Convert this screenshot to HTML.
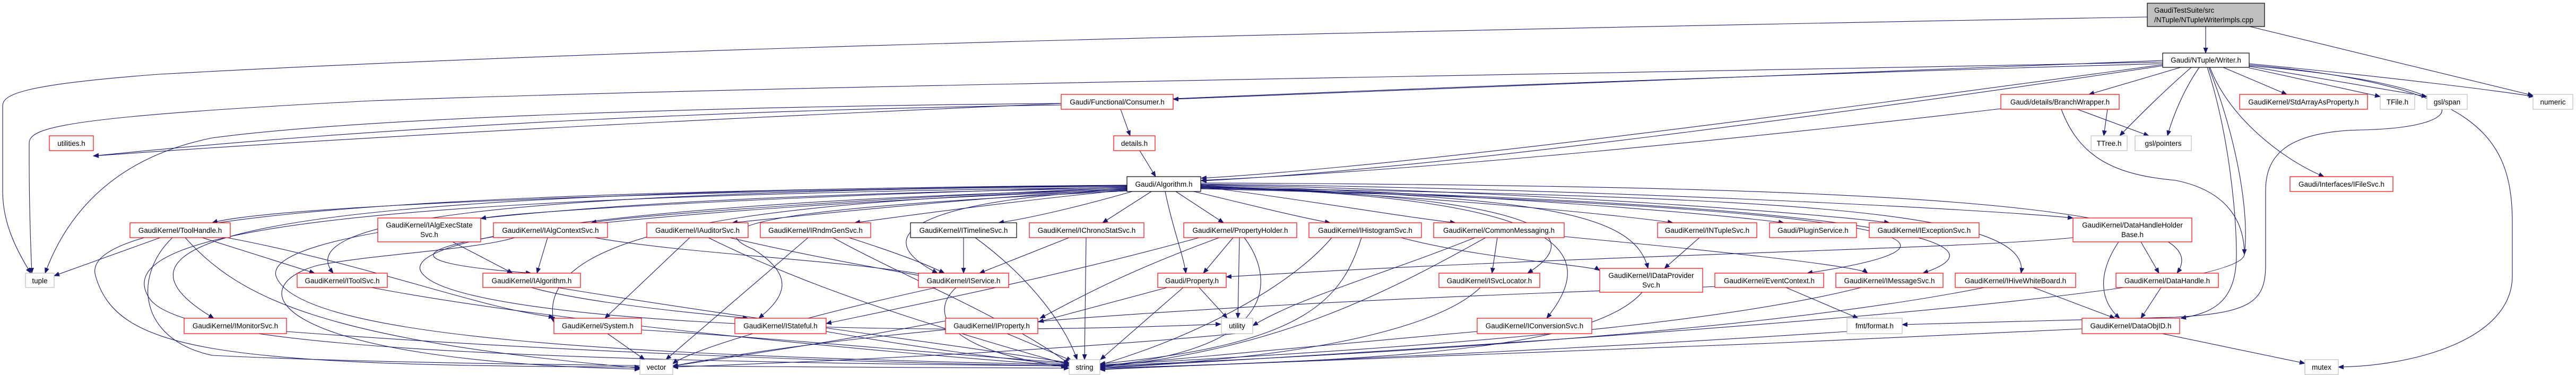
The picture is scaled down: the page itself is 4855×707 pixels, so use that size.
<!DOCTYPE html>
<html><head><meta charset="utf-8"><style>
html,body{margin:0;padding:0;background:#fff;}
svg{display:block;}
text{font-family:"Liberation Sans","DejaVu Sans",sans-serif;font-size:13.5px;fill:#000;}
.e{fill:none;stroke:#191970;stroke-width:1.1;marker-end:url(#a);}
.r{fill:#fff;stroke:#ff0000;stroke-width:1.2;}
.g{fill:#fff;stroke:#bfbfbf;stroke-width:1.2;}
.k{fill:#fff;stroke:#000;stroke-width:1.2;}
</style></head><body>
<svg width="4855" height="707" viewBox="0 0 4855 707" xmlns="http://www.w3.org/2000/svg">
<defs><marker id="a" markerWidth="11" markerHeight="9" refX="10" refY="4.5" orient="auto" markerUnits="userSpaceOnUse"><path d="M0,0 L11,4.5 L0,9 z" fill="#191970"/></marker></defs>

<!-- edges from test suite -->
<path class="e" d="M4157,50 L4157,100"/>
<path class="e" d="M4240,50 L4774,180"/>
<path class="e" d="M4047,32 C2500,60 1200,90 300,140 C30,160 5,180 5,200 L5,360 C5,420 30,470 58,515"/>

<!-- Writer.h edges -->
<path class="e" d="M4076,117 C3000,140 1500,160 700,190 C120,220 55,240 55,270 L55,300 C55,400 58,470 60,515"/>
<path class="e" d="M4076,120 C3000,150 1200,220 176,294"/>
<path class="e" d="M4076,114 C3200,150 2500,180 2211,187"/>
<path class="e" d="M4076,122 C3500,200 2700,310 2264,336"/>
<path class="e" d="M4076,124 C3500,210 2700,320 2264,341"/>
<path class="e" d="M4110,127 L3937,178"/>
<path class="e" d="M4145,127 C4115,170 4095,220 4085,256"/>
<path class="e" d="M4130,127 C4080,170 4030,220 3995,256"/>
<path class="e" d="M4190,127 L4310,178"/>
<path class="e" d="M4239,128 L4486,182"/>
<path class="e" d="M4239,125 L4574,182"/>
<path class="e" d="M4239,120 C4500,145 4700,170 4776,182"/>
<path class="e" d="M4165,127 C4200,220 4300,300 4380,333"/>
<path class="e" d="M4239,122 C4660,160 4735,250 4735,420 L4735,520 C4735,640 4550,690 4407,692"/>
<path class="e" d="M4239,124 C4680,160 4680,240 4450,245 C4300,248 4270,300 4270,360 L4270,500 C4270,570 4240,590 4100,598 C3900,605 3700,610 3585,612"/>
<path class="e" d="M4160,127 C4200,250 4215,400 4215,480 C4215,570 4170,590 4110,600"/>
<path class="e" d="M4163,127 C4215,260 4240,400 4230,480 C4220,560 3000,640 2073,694"/>

<!-- Consumer / details / BranchWrapper -->
<path class="e" d="M2000,195 C1400,200 700,220 400,260 C200,300 120,420 85,515"/>
<path class="e" d="M2000,198 C1500,205 800,230 176,294"/>
<path class="e" d="M2112,206 L2130,256"/>
<path class="e" d="M2148,284 L2178,333"/>
<path class="e" d="M3771,205 C3300,260 2700,320 2264,340"/>
<path class="e" d="M3972,206 L3965,256"/>
<path class="e" d="M3915,206 L4050,256"/>
<path class="e" d="M3885,206 C3920,300 3990,330 4100,340 C4200,360 4230,420 4230,480"/>

<!-- Algorithm.h to row 1 -->
<path class="e" d="M2124,350 C1200,360 500,390 400,420"/>
<path class="e" d="M2124,352 C1600,365 1000,395 906,412"/>
<path class="e" d="M2124,354 C1700,370 1200,405 1114,420"/>
<path class="e" d="M2124,356 C1800,375 1500,408 1380,420"/>
<path class="e" d="M2124,358 C1900,380 1700,408 1611,420"/>
<path class="e" d="M2134,361 C2050,385 1950,410 1882,420"/>
<path class="e" d="M2170,361 L2078,420"/>
<path class="e" d="M2216,361 L2306,420"/>
<path class="e" d="M2250,361 C2350,385 2450,410 2507,420"/>
<path class="e" d="M2263,352 C2450,375 2650,410 2743,420"/>
<path class="e" d="M2263,350 C2700,370 3050,405 3153,420"/>
<path class="e" d="M2263,349 C2800,365 3250,405 3362,420"/>
<path class="e" d="M2263,348 C2900,360 3450,405 3561,420"/>
<path class="e" d="M2263,347 C3000,355 3750,395 3907,411"/>
<!-- Algorithm.h to lower rows -->
<path class="e" d="M2124,358 C1750,375 1620,440 1767,515"/>
<path class="e" d="M2196,361 C2210,430 2230,480 2235,515"/>
<path class="e" d="M2263,351 C2900,370 3000,440 2879,515"/>
<path class="e" d="M2263,352 C2900,370 3080,400 3106,506"/>
<path class="e" d="M2263,353 C2950,370 3020,470 2915,600"/>
<path class="e" d="M2263,356 C3300,380 3900,440 3406,515"/>
<path class="e" d="M2263,355 C3300,375 3850,440 3624,515"/>
<path class="e" d="M2263,354 C3400,370 3830,400 3809,515"/>
<path class="e" d="M2263,345 C3500,350 4200,380 4103,515"/>
<path class="e" d="M2124,351 C900,360 550,420 628,515"/>
<path class="e" d="M2124,349 C700,360 100,420 403,600"/>
<path class="e" d="M2124,350 C600,360 150,420 180,520 C220,660 400,690 1206,692"/>
<path class="e" d="M2124,353 C700,370 200,430 280,560 C330,650 900,680 2015,690"/>
<path class="e" d="M2124,355 C1000,370 500,440 520,520 C560,640 1200,670 2015,688"/>
<path class="e" d="M2124,357 C1200,380 720,450 800,520 C880,600 1600,640 2301,611"/>
<path class="e" d="M2124,359 C1400,380 400,470 1001,515"/>
<path class="e" d="M2124,360 C1500,390 1300,420 1420,470 C1500,520 1480,560 1430,600"/>
<path class="e" d="M2124,356 C1500,380 1000,420 1044,608"/>

<!-- row 1 children -->
<path class="e" d="M302,448 L102,520"/>
<path class="e" d="M381,448 L593,515"/>
<path class="e" d="M325,448 C250,520 260,640 400,670 C800,690 1500,692 2015,694"/>
<path class="e" d="M349,448 C450,560 600,640 1206,694"/>
<path class="e" d="M428,448 C700,500 900,580 1044,598"/>
<path class="e" d="M853,456 L966,515"/>
<path class="e" d="M1032,448 L1012,515"/>
<path class="e" d="M1120,448 C1300,480 1600,490 1767,522"/>
<path class="e" d="M970,448 C900,470 700,480 600,500 C450,540 500,680 1206,696"/>
<path class="e" d="M1300,448 L1140,600"/>
<path class="e" d="M1335,448 C1500,530 1700,600 2015,688"/>
<path class="e" d="M1375,448 C1600,500 1750,520 1767,527"/>
<path class="e" d="M1523,448 L1255,678"/>
<path class="e" d="M1570,448 C1700,520 1900,600 2015,686"/>
<path class="e" d="M1600,448 C1700,480 1750,500 1780,515"/>
<path class="e" d="M1816,448 L1816,515"/>
<path class="e" d="M1838,448 C1950,530 2010,620 2030,678"/>
<path class="e" d="M2015,448 L1846,515"/>
<path class="e" d="M2047,448 L2044,678"/>
<path class="e" d="M2324,448 L2268,515"/>
<path class="e" d="M2336,448 L2333,600"/>
<path class="e" d="M2298,448 C2100,520 2000,580 1960,600"/>
<path class="e" d="M2345,448 C2400,520 2420,660 2073,690"/>
<path class="e" d="M2260,448 C2000,520 1700,580 1557,610"/>
<path class="e" d="M2510,448 C2450,520 2300,620 2073,688"/>
<path class="e" d="M2566,448 C2530,560 2470,650 2073,686"/>
<path class="e" d="M2640,448 C2800,490 3000,500 3015,510"/>
<path class="e" d="M2822,448 L2812,515"/>
<path class="e" d="M2948,446 C3200,470 3500,500 3520,515"/>
<path class="e" d="M2800,448 C2600,560 2400,660 2073,692"/>
<path class="e" d="M2780,448 C2600,520 2450,560 2361,614"/>
<path class="e" d="M3203,448 L3137,506"/>
<path class="e" d="M3907,448 C3700,470 3000,480 2311,522"/>
<path class="e" d="M3993,456 C3950,520 3960,570 3995,600"/>
<path class="e" d="M4035,456 L4069,515"/>

<!-- row 2 children -->
<path class="e" d="M1001,542 C1100,570 1300,590 1410,600"/>
<path class="e" d="M1050,542 C1400,600 1800,650 2015,684"/>
<path class="e" d="M700,542 C1000,600 1600,660 2015,690"/>
<path class="e" d="M1802,542 C1750,590 1780,660 2010,692"/>
<path class="e" d="M1765,542 C1500,600 1300,660 1268,686"/>
<path class="e" d="M2260,542 L2313,600"/>
<path class="e" d="M2230,542 L2074,678"/>
<path class="e" d="M2200,542 L1957,607"/>
<path class="e" d="M2790,542 C2700,630 2400,680 2073,692"/>
<path class="e" d="M3095,551 C3000,660 2600,680 2073,694"/>
<path class="e" d="M3366,542 L3502,600"/>
<path class="e" d="M3508,542 C3200,620 2600,660 2073,688"/>
<path class="e" d="M3832,542 L3986,600"/>
<path class="e" d="M3740,542 C3400,610 2800,660 2073,690"/>
<path class="e" d="M4073,542 L4035,600"/>
<path class="e" d="M3240,540 C2700,560 1800,590 1268,690"/>

<!-- row 3 children -->
<path class="e" d="M1145,629 L1215,678"/>
<path class="e" d="M1209,622 C1500,640 1800,670 2015,684"/>
<path class="e" d="M540,625 C1000,660 1600,684 2015,690"/>
<path class="e" d="M1557,625 C1700,650 1900,680 2015,687"/>
<path class="e" d="M1898,629 L2020,680"/>
<path class="e" d="M1782,605 C1600,640 1400,670 1268,690"/>
<path class="e" d="M2784,625 C2500,650 2200,680 2073,690"/>
<path class="e" d="M4075,629 L4344,685"/>
<path class="e" d="M3924,620 C3300,650 2600,680 2073,696"/>
<path class="e" d="M2330,629 C2000,660 1600,680 1268,692"/>
<path class="e" d="M3481,625 C2800,670 2200,690 2073,697"/>

<!-- nodes -->
<rect class="k" x="4047" y="6" width="221" height="44" style="fill:#bfbfbf"/>
<text x="4060" y="24">GaudiTestSuite/src</text><text x="4060" y="42">/NTuple/NTupleWriterImpls.cpp</text>
<rect class="k" x="4076" y="100" width="163" height="27"/><text x="4157.5" y="118" text-anchor="middle">Gaudi/NTuple/Writer.h</text>

<rect class="r" x="2000" y="178" width="211" height="28"/><text x="2105.5" y="197" text-anchor="middle">Gaudi/Functional/Consumer.h</text>
<rect class="r" x="3771" y="178" width="223" height="28"/><text x="3882.5" y="197" text-anchor="middle">Gaudi/details/BranchWrapper.h</text>
<rect class="r" x="4221" y="178" width="241" height="28"/><text x="4341.5" y="197" text-anchor="middle">GaudiKernel/StdArrayAsProperty.h</text>
<rect class="g" x="4486" y="178" width="65" height="28"/><text x="4518.5" y="197" text-anchor="middle">TFile.h</text>
<rect class="g" x="4574" y="178" width="76" height="28"/><text x="4612" y="197" text-anchor="middle">gsl/span</text>
<rect class="g" x="4774" y="178" width="75" height="28"/><text x="4811.5" y="197" text-anchor="middle">numeric</text>

<rect class="r" x="93" y="256" width="83" height="28"/><text x="134.5" y="275" text-anchor="middle">utilities.h</text>
<rect class="r" x="2099" y="256" width="78" height="28"/><text x="2138" y="275" text-anchor="middle">details.h</text>
<rect class="g" x="3941" y="256" width="68" height="28"/><text x="3975" y="275" text-anchor="middle">TTree.h</text>
<rect class="g" x="4024" y="256" width="106" height="28"/><text x="4077" y="275" text-anchor="middle">gsl/pointers</text>

<rect class="k" x="2124" y="333" width="139" height="28"/><text x="2193.5" y="352" text-anchor="middle">Gaudi/Algorithm.h</text>
<rect class="r" x="4316" y="333" width="194" height="28"/><text x="4413" y="352" text-anchor="middle">Gaudi/Interfaces/IFileSvc.h</text>

<rect class="r" x="245" y="420" width="189" height="28"/><text x="339.5" y="439" text-anchor="middle">GaudiKernel/ToolHandle.h</text>
<rect class="r" x="712" y="411" width="194" height="45"/><text x="809" y="429" text-anchor="middle">GaudiKernel/IAlgExecState</text><text x="809" y="447" text-anchor="middle">Svc.h</text>
<rect class="r" x="930" y="420" width="215" height="28"/><text x="1037.5" y="439" text-anchor="middle">GaudiKernel/IAlgContextSvc.h</text>
<rect class="r" x="1219" y="420" width="191" height="28"/><text x="1314.5" y="439" text-anchor="middle">GaudiKernel/IAuditorSvc.h</text>
<rect class="r" x="1433" y="420" width="208" height="28"/><text x="1537" y="439" text-anchor="middle">GaudiKernel/IRndmGenSvc.h</text>
<rect class="k" x="1716" y="420" width="200" height="28"/><text x="1816" y="439" text-anchor="middle">GaudiKernel/ITimelineSvc.h</text>
<rect class="r" x="1940" y="420" width="216" height="28"/><text x="2048" y="439" text-anchor="middle">GaudiKernel/IChronoStatSvc.h</text>
<rect class="r" x="2231" y="420" width="213" height="28"/><text x="2337.5" y="439" text-anchor="middle">GaudiKernel/PropertyHolder.h</text>
<rect class="r" x="2467" y="420" width="212" height="28"/><text x="2573" y="439" text-anchor="middle">GaudiKernel/IHistogramSvc.h</text>
<rect class="r" x="2702" y="420" width="246" height="28"/><text x="2825" y="439" text-anchor="middle">GaudiKernel/CommonMessaging.h</text>
<rect class="r" x="3124" y="420" width="187" height="28"/><text x="3217.5" y="439" text-anchor="middle">GaudiKernel/INTupleSvc.h</text>
<rect class="r" x="3335" y="420" width="164" height="28"/><text x="3417" y="439" text-anchor="middle">Gaudi/PluginService.h</text>
<rect class="r" x="3523" y="420" width="207" height="28"/><text x="3626.5" y="439" text-anchor="middle">GaudiKernel/IExceptionSvc.h</text>
<rect class="r" x="3907" y="411" width="224" height="45"/><text x="4019" y="429" text-anchor="middle">GaudiKernel/DataHandleHolder</text><text x="4019" y="447" text-anchor="middle">Base.h</text>

<rect class="g" x="48" y="515" width="54" height="27"/><text x="75" y="534" text-anchor="middle">tuple</text>
<rect class="r" x="560" y="515" width="170" height="27"/><text x="645" y="534" text-anchor="middle">GaudiKernel/IToolSvc.h</text>
<rect class="r" x="910" y="515" width="184" height="27"/><text x="1002" y="534" text-anchor="middle">GaudiKernel/IAlgorithm.h</text>
<rect class="r" x="1731" y="515" width="170" height="27"/><text x="1816" y="534" text-anchor="middle">GaudiKernel/IService.h</text>
<rect class="r" x="2182" y="515" width="129" height="27"/><text x="2246.5" y="534" text-anchor="middle">Gaudi/Property.h</text>
<rect class="r" x="2712" y="515" width="190" height="27"/><text x="2807" y="534" text-anchor="middle">GaudiKernel/ISvcLocator.h</text>
<rect class="r" x="3015" y="506" width="194" height="45"/><text x="3112" y="524" text-anchor="middle">GaudiKernel/IDataProvider</text><text x="3112" y="542" text-anchor="middle">Svc.h</text>
<rect class="r" x="3232" y="515" width="205" height="27"/><text x="3334.5" y="534" text-anchor="middle">GaudiKernel/EventContext.h</text>
<rect class="r" x="3460" y="515" width="202" height="27"/><text x="3561" y="534" text-anchor="middle">GaudiKernel/IMessageSvc.h</text>
<rect class="r" x="3685" y="515" width="227" height="27"/><text x="3798.5" y="534" text-anchor="middle">GaudiKernel/IHiveWhiteBoard.h</text>
<rect class="r" x="3988" y="515" width="193" height="27"/><text x="4084.5" y="534" text-anchor="middle">GaudiKernel/DataHandle.h</text>

<rect class="r" x="347" y="600" width="193" height="29"/><text x="443.5" y="619" text-anchor="middle">GaudiKernel/IMonitorSvc.h</text>
<rect class="r" x="1044" y="600" width="165" height="29"/><text x="1126.5" y="619" text-anchor="middle">GaudiKernel/System.h</text>
<rect class="r" x="1385" y="600" width="172" height="29"/><text x="1471" y="619" text-anchor="middle">GaudiKernel/IStateful.h</text>
<rect class="r" x="1782" y="600" width="174" height="29"/><text x="1869" y="619" text-anchor="middle">GaudiKernel/IProperty.h</text>
<rect class="g" x="2302" y="600" width="59" height="29"/><text x="2331.5" y="619" text-anchor="middle">utility</text>
<rect class="r" x="2784" y="600" width="216" height="29"/><text x="2892" y="619" text-anchor="middle">GaudiKernel/IConversionSvc.h</text>
<rect class="g" x="3481" y="600" width="104" height="29"/><text x="3533" y="619" text-anchor="middle">fmt/format.h</text>
<rect class="r" x="3924" y="600" width="184" height="29"/><text x="4016" y="619" text-anchor="middle">GaudiKernel/DataObjID.h</text>

<rect class="g" x="1206" y="678" width="62" height="28"/><text x="1237" y="697" text-anchor="middle">vector</text>
<rect class="g" x="2015" y="678" width="58" height="28"/><text x="2044" y="697" text-anchor="middle">string</text>
<rect class="g" x="4344" y="678" width="63" height="28"/><text x="4375.5" y="697" text-anchor="middle">mutex</text>
</svg>
</body></html>
